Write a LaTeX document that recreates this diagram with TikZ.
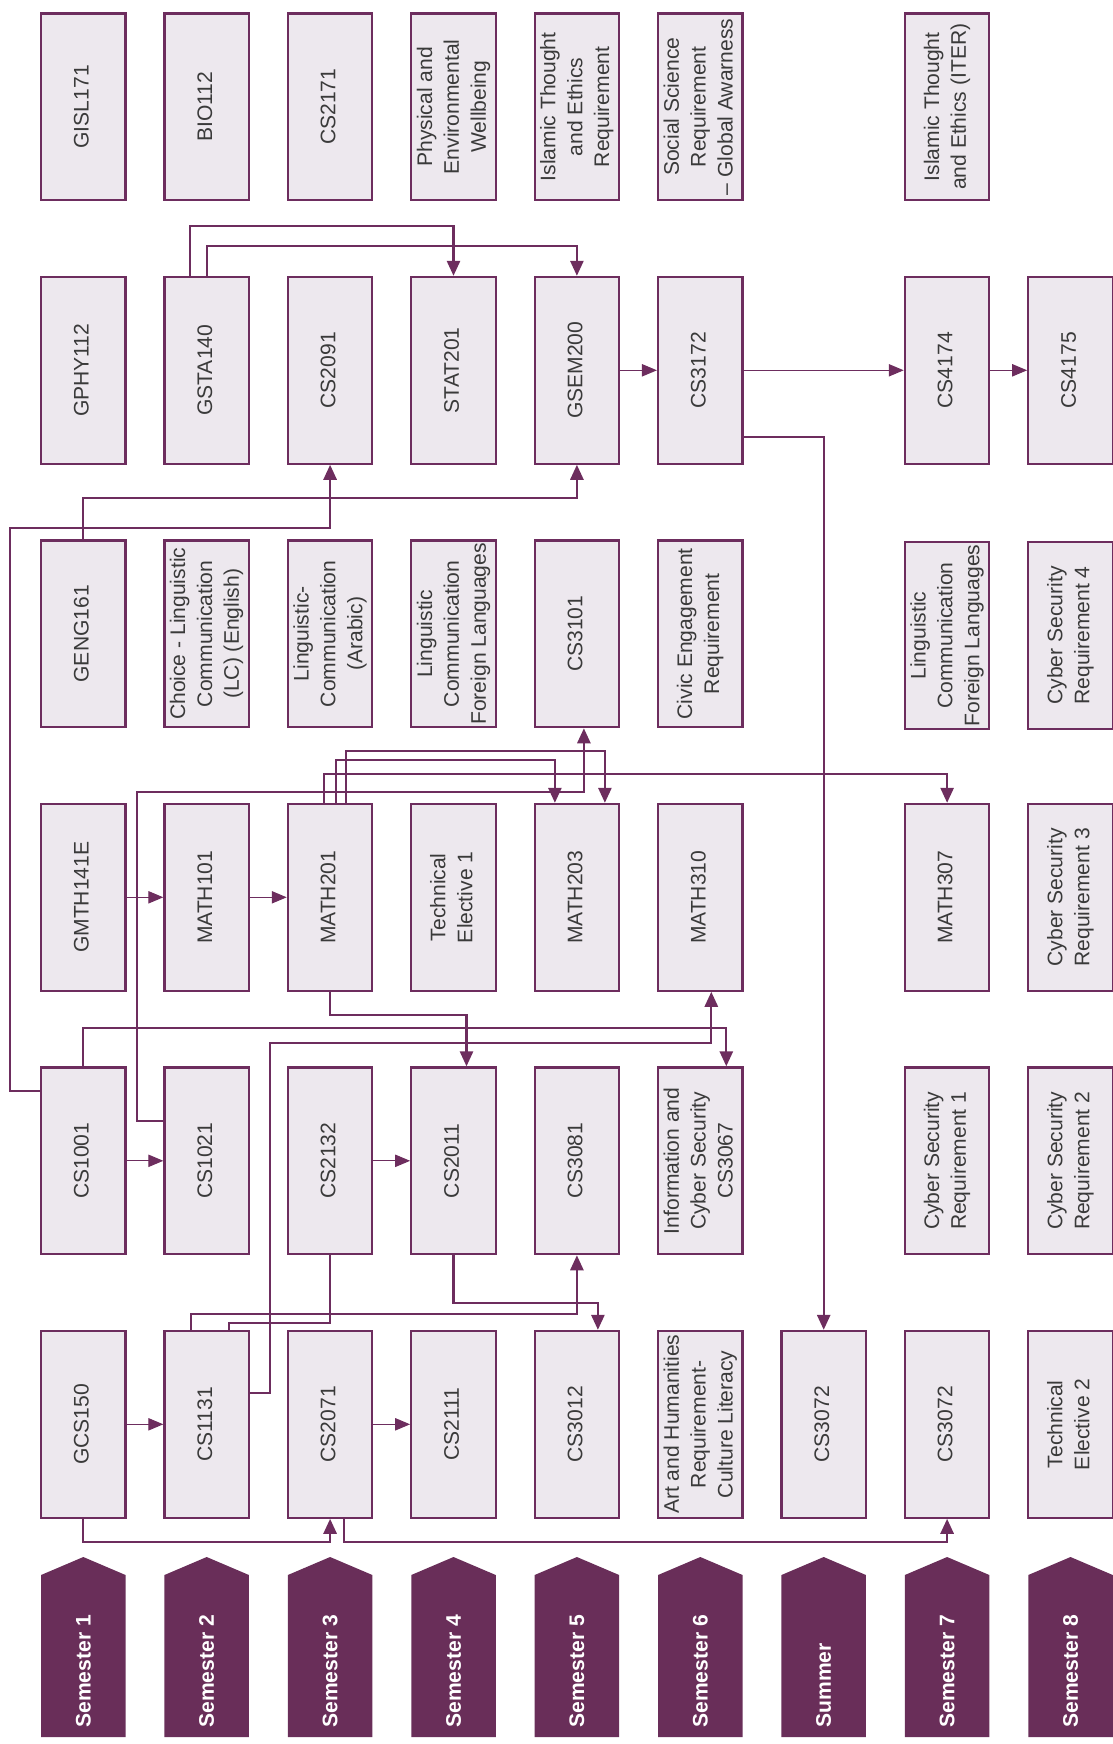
\documentclass[tikz,border=0pt]{standalone}
\usepackage{fontspec}
\setmainfont{Liberation Sans}
\usepackage{graphicx}
\definecolor{planborder}{HTML}{6D2D5E}
\definecolor{planfill}{HTML}{EDE8EE}
\definecolor{plansem}{HTML}{692E59}
\definecolor{plantext}{HTML}{3A3A3A}
\usetikzlibrary{arrows.meta,calc}
\newcommand{\vtext}[1]{\rotatebox{90}{\begin{tabular}{@{}c@{}}#1\end{tabular}}}

\begin{document}
\begin{tikzpicture}[x=0.02cm, y=-0.02cm,
  course/.style={draw=planborder, fill=planfill, line width=1.3pt,
                 minimum width=1.69cm, minimum height=3.736cm, inner sep=0pt,
                 align=center, font=\fontsize{12}{15.3}\selectfont\color{plantext}},
  semlabel/.style={inner sep=0pt, anchor=south,
                   font=\fontsize{12}{14}\selectfont\bfseries\color{white}},
  arr/.style={draw=planborder, line width=1.2pt,
              -{Triangle[length=8.5pt,width=7.5pt]}},
  link/.style={draw=planborder, line width=1.2pt},
  flow/.style={draw=planborder, line width=0.6pt,
               -{Triangle[length=8.5pt,width=7pt]}}
]
  \useasboundingbox (0,0) rectangle (1112,1744);

  % row 1
  \node[course] (gisl)   at (83.3,106.8)   {\vtext{GISL171}};
  \node[course] (bio)    at (206.7,106.8)  {\vtext{BIO112}};
  \node[course] (cs2171) at (330.1,106.8)  {\vtext{CS2171}};
  \node[course] (phys)   at (453.5,106.8)  {\vtext{Physical and\\Environmental\\Wellbeing}};
  \node[course] (islam)  at (576.9,106.8)  {\vtext{Islamic Thought\\and Ethics\\Requirement}};
  \node[course] (socsci) at (700.3,106.8)  {\vtext{Social Science\\Requirement\\– Global Awarness}};
  \node[course] (iter)   at (947.1,106.8)  {\vtext{Islamic Thought\\and Ethics (ITER)}};

  % row 2
  \node[course] (gphy)   at (83.3,370.3)   {\vtext{GPHY112}};
  \node[course] (gsta)   at (206.7,370.3)  {\vtext{GSTA140}};
  \node[course] (cs2091) at (330.1,370.3)  {\vtext{CS2091}};
  \node[course] (stat)   at (453.5,370.3)  {\vtext{STAT201}};
  \node[course] (gsem)   at (576.9,370.3)  {\vtext{GSEM200}};
  \node[course] (cs3172) at (700.3,370.3)  {\vtext{CS3172}};
  \node[course] (cs4174) at (947.1,370.3)  {\vtext{CS4174}};
  \node[course] (cs4175) at (1070.5,370.3) {\vtext{CS4175}};

  % row 3
  \node[course] (geng)   at (83.3,633.8)   {\vtext{GENG161}};
  \node[course] (lceng)  at (206.7,633.8)  {\vtext{Choice - Linguistic\\Communication\\(LC) (English)}};
  \node[course] (lcar)   at (330.1,633.8)  {\vtext{Linguistic-\\Communication\\(Arabic)}};
  \node[course] (lcfor)  at (453.5,633.8)  {\vtext{Linguistic\\Communication\\Foreign Languages}};
  \node[course] (cs3101) at (576.9,633.8)  {\vtext{CS3101}};
  \node[course] (civic)  at (700.3,633.8)  {\vtext{Civic Engagement\\Requirement}};
  \node[course] (lcforb) at (947.1,635.5)  {\vtext{Linguistic\\Communication\\Foreign Languages}};
  \node[course] (csreqd) at (1070.5,635.5) {\vtext{Cyber Security\\Requirement 4}};

  % row 4
  \node[course] (gmth)    at (83.3,897.3)   {\vtext{GMTH141E}};
  \node[course] (math101) at (206.7,897.3)  {\vtext{MATH101}};
  \node[course] (math201) at (330.1,897.3)  {\vtext{MATH201}};
  \node[course] (techa)   at (453.5,897.3)  {\vtext{Technical\\Elective 1}};
  \node[course] (math203) at (576.9,897.3)  {\vtext{MATH203}};
  \node[course] (math310) at (700.3,897.3)  {\vtext{MATH310}};
  \node[course] (math307) at (947.1,897.3)  {\vtext{MATH307}};
  \node[course] (csreqc)  at (1070.5,897.3) {\vtext{Cyber Security\\Requirement 3}};

  % row 5
  \node[course] (cs1001) at (83.3,1160.8)   {\vtext{CS1001}};
  \node[course] (cs1021) at (206.7,1160.8)  {\vtext{CS1021}};
  \node[course] (cs2132) at (330.1,1160.8)  {\vtext{CS2132}};
  \node[course] (cs2011) at (453.5,1160.8)  {\vtext{CS2011}};
  \node[course] (cs3081) at (576.9,1160.8)  {\vtext{CS3081}};
  \node[course] (cs3067) at (700.3,1160.8)  {\vtext{Information and\\Cyber Security\\CS3067}};
  \node[course] (csreqa) at (947.1,1160.8)  {\vtext{Cyber Security\\Requirement 1}};
  \node[course] (csreqb) at (1070.5,1160.8) {\vtext{Cyber Security\\Requirement 2}};

  % row 6
  \node[course] (gcs)     at (83.3,1424.3)   {\vtext{GCS150}};
  \node[course] (cs1131)  at (206.7,1424.3)  {\vtext{CS1131}};
  \node[course] (cs2071)  at (330.1,1424.3)  {\vtext{CS2071}};
  \node[course] (cs2111)  at (453.5,1424.3)  {\vtext{CS2111}};
  \node[course] (cs3012)  at (576.9,1424.3)  {\vtext{CS3012}};
  \node[course] (arts)    at (700.3,1424.3)  {\vtext{Art and Humanities\\Requirement-\\Culture Literacy}};
  \node[course] (cs3072s) at (823.7,1424.3)  {\vtext{CS3072}};
  \node[course] (cs3072)  at (947.1,1424.3)  {\vtext{CS3072}};
  \node[course] (techb)   at (1070.5,1424.3) {\vtext{Technical\\Elective 2}};

  % semester labels
  \foreach \sx/\st [count=\si] in {83.3/Semester 1, 206.7/Semester 2, 330.1/Semester 3,
      453.5/Semester 4, 576.9/Semester 5, 700.3/Semester 6, 823.7/Summer,
      947.1/Semester 7, 1070.5/Semester 8}{
    \fill[plansem] ({\sx-42.25},1737) -- ({\sx-42.25},1575) -- (\sx,1557)
      -- ({\sx+42.25},1575) -- ({\sx+42.25},1737) -- cycle;
    \node[semlabel] (sem-\si) at (\sx,1728) {\rotatebox{90}{\st}};
  }

  % straight prerequisites
  \draw[flow] (gsem)    -- (cs3172);
  \draw[flow] (cs3172)  -- (cs4174);
  \draw[flow] (cs4174)  -- (cs4175);
  \draw[flow] (gmth)    -- (math101);
  \draw[flow] (math101) -- (math201);
  \draw[flow] (cs1001)  -- (cs1021);
  \draw[flow] (cs2132)  -- (cs2011);
  \draw[flow] (gcs)     -- (cs1131);
  \draw[flow] (cs2071)  -- (cs2111);

  % routed prerequisites
  \draw[arr] ($(gsta.north)+(-17,0)$) -- ++(0,-50) -| (stat.north);
  \draw[arr] (gsta.north) -- ++(0,-30) -| (gsem.north);
  \draw[arr] ($(cs3172.east)+(0,67)$) -| (cs3072s.north);
  \draw[arr] (geng.north) -- ++(0,-41) -| (gsem.south);
  \draw[arr] ($(cs1001.west)+(0,-70)$) -- ++(-30,0) |- ($(cs2091.south)+(0,63)$) -- (cs2091.south);
  \draw[arr] ($(math201.north)+(16,0)$) -- ++(0,-52) -| ($(math203.north)+(28,0)$);
  \draw[arr] ($(math201.north)+(6,0)$) -- ++(0,-43) -| ($(math203.north)+(-22,0)$);
  \draw[arr] ($(math201.north)+(-6.5,0)$) -- ++(0,-29) -| (math307.north);
  \draw[arr] ($(cs1021.west)+(0,-40)$) -- ++(-26,0) |- ($(cs3101.south)+(7,64)$) -- ($(cs3101.south)+(7,0)$);
  \draw[arr] (math201.south) -- ++(0,23) -| ($(cs2011.north)+(13,0)$);
  \draw[arr] (cs1001.north) -- ++(0,-38) -| ($(cs3067.north)+(26,0)$);
  \draw[arr] ($(cs1131.east)+(0,-31)$) -- ++(20,0) |- ($(math310.south)+(11,51)$) -- ($(math310.south)+(11,0)$);
  \draw[link] (cs2132.south) -- ++(0,68) -| ($(cs1131.north)+(22,0)$);
  \draw[arr] ($(cs1131.north)+(-16,0)$) -- ++(0,-16) -| (cs3081.south);
  \draw[arr] (cs2011.south) -- ++(0,48) -| ($(cs3012.north)+(21,0)$);
  \draw[arr] (gcs.south) -- ++(0,23) -| (cs2071.south);
  \draw[arr] ($(cs2071.south)+(14,0)$) -- ++(0,23) -| (cs3072.south);

\end{tikzpicture}
\end{document}
